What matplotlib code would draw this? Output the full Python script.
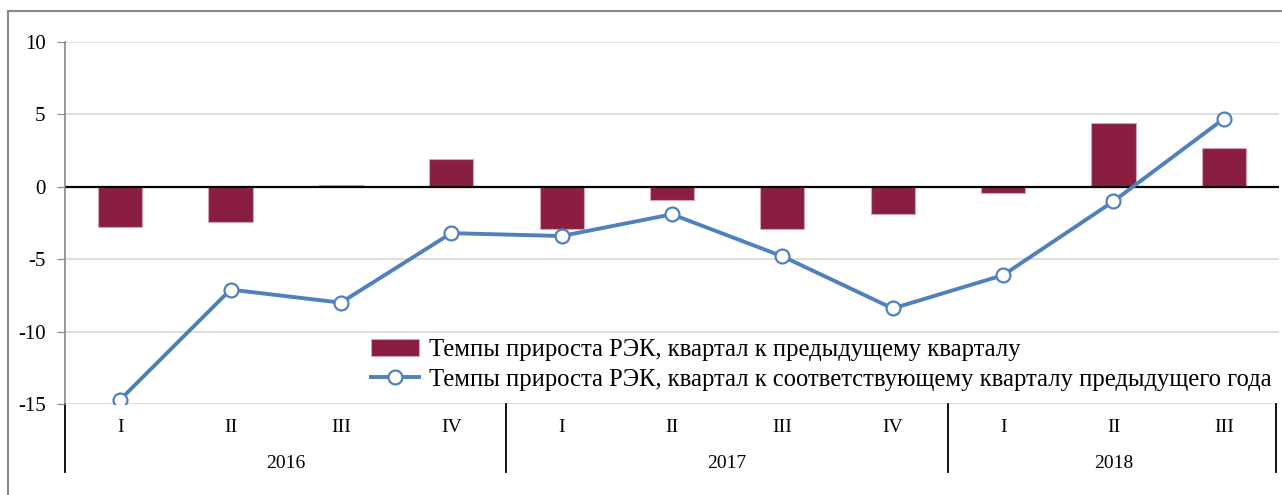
import numpy as np
import matplotlib.pyplot as plt
from matplotlib.patches import Rectangle

plt.rcParams['font.family'] = ['Liberation Serif', 'DejaVu Serif']
plt.rcParams['axes.unicode_minus'] = False

quarters = ['I', 'II', 'III', 'IV', 'I', 'II', 'III', 'IV', 'I', 'II', 'III']
years = ['2016', '2017', '2018']
year_spans = [(0, 4), (4, 8), (8, 11)]

# quarter-on-quarter growth (bars) and year-on-year growth (line), %
qoq = [-2.8, -2.4, 0.1, 1.9, -2.9, -0.9, -2.9, -1.9, -0.4, 4.4, 2.7]
yoy = [-14.7, -7.1, -8.0, -3.2, -3.4, -1.9, -4.8, -8.4, -6.1, -1.0, 4.7]

label_bar = 'Темпы прироста РЭК, квартал к предыдущему кварталу'
label_line = 'Темпы прироста РЭК, квартал к соответствующему кварталу предыдущего года'

fig = plt.figure(figsize=(12.82, 4.95), dpi=100)
ax = fig.add_axes([0.0507, 0.1838, 0.947, 0.7314])

x = np.arange(len(quarters))
bars = ax.bar(x, qoq, width=0.4, color='#891e41', edgecolor='#d3a6b4',
              linewidth=0.8, label=label_bar, zorder=2)
line, = ax.plot(x, yoy, color='#4f81bd', linewidth=2.8, marker='o', markersize=10,
                markerfacecolor='white', markeredgecolor='#4f81bd',
                markeredgewidth=1.6, label=label_line, zorder=3)

ax.set_xlim(-0.5, len(quarters) - 0.5)
ax.set_ylim(-15, 10)
ax.set_yticks([-15, -10, -5, 0, 5, 10])
ax.tick_params(axis='y', labelsize=15, length=6, color='#888888', pad=8)
ax.yaxis.grid(True, color='#d9d9d9', linewidth=1.2, zorder=0)
ax.axhline(0, color='black', linewidth=1.6, zorder=2.5)

for s in ['top', 'right', 'bottom']:
    ax.spines[s].set_visible(False)
ax.spines['left'].set_color('#888888')
ax.spines['left'].set_linewidth(1.2)

# two-level category axis: quarters, then years, with separators
ax.set_xticks([])
trans = ax.get_xaxis_transform()
for i, q in enumerate(quarters):
    ax.text(i, -0.066, q, transform=trans, ha='center', va='center', fontsize=14)
for yr, (a, b) in zip(years, year_spans):
    ax.text((a + b - 1) / 2, -0.165, yr, transform=trans, ha='center', va='center',
            fontsize=14)
for edge in [-0.5, 3.5, 7.5, 10.47]:
    ax.plot([edge, edge], [0, -0.188], transform=trans, color='black',
            linewidth=1.3, clip_on=False)

ax.legend(handles=[bars, line], loc='upper left', bbox_to_anchor=(0.252, 0.18),
          frameon=False, fontsize=17.7, handlelength=1.95, handletextpad=0.4,
          labelspacing=0.3, borderpad=0, borderaxespad=0)

# outer chart frame
fig.patches.append(Rectangle((8 / 1282, -0.05), 1.1, 1 - 11 / 495 + 0.05,
                             transform=fig.transFigure, fill=False,
                             edgecolor='#888888', linewidth=1.5))

fig.savefig('out.png', dpi=100)
